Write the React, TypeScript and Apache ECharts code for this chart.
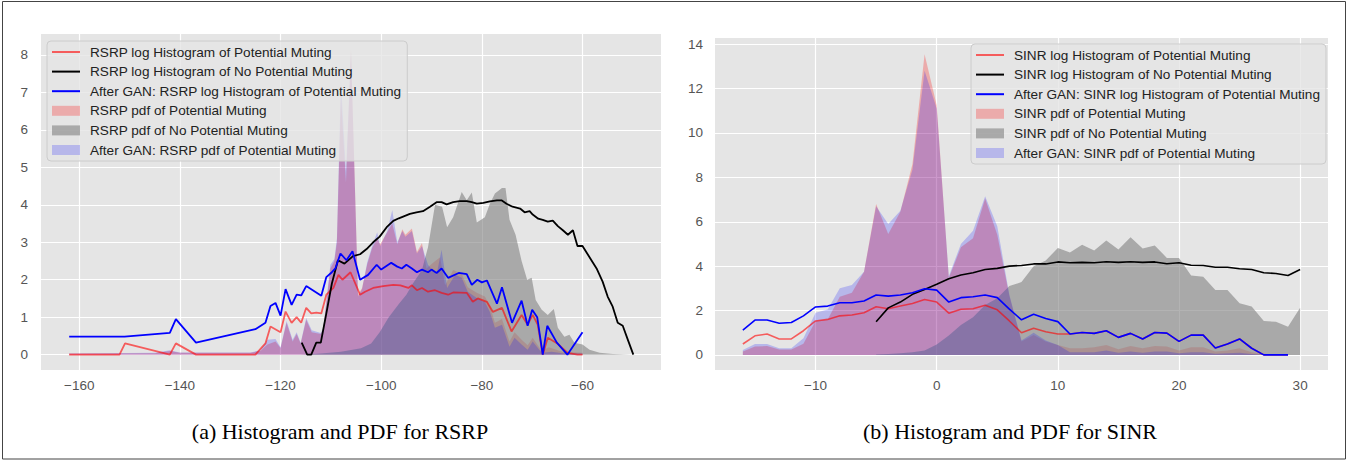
import React, { useEffect, useRef } from "react";
import * as echarts from "echarts";

// ---------- RSRP (left) ----------
const RSRP_RED_LINE: [number, number][] = [
  [-162, 0], [-152, 0], [-150.9, 0.3], [-142, 0], [-140.8, 0.3], [-136.8, 0], [-125, 0], [-123, 0.3],
  [-122, 0.75], [-120, 0.6], [-119, 1.15], [-117.8, 0.85], [-116.8, 1.0], [-115.9, 0.85], [-114.9, 1.25],
  [-113.9, 1.1], [-112.9, 1.12], [-111.9, 1.1], [-110.9, 1.6], [-109.5, 1.78], [-108.5, 2.13], [-107.7, 2.0],
  [-106.1, 2.2], [-104.2, 1.6], [-103.2, 1.68], [-101.6, 1.78], [-99.6, 1.83], [-97.6, 1.86], [-96.2, 1.85],
  [-94.6, 1.78], [-93.9, 1.85], [-92.9, 1.72], [-91.9, 1.78], [-90.7, 1.68], [-89.3, 1.72], [-88, 1.65],
  [-86.7, 1.6], [-85.7, 1.66], [-83, 1.65], [-81.8, 1.41], [-80.8, 1.5], [-79, 1.41], [-77.8, 1.14],
  [-76, 1.25], [-74.1, 0.62], [-72.1, 1.06], [-70.9, 0.8], [-69.9, 1.06], [-68.9, 0.8], [-67.9, 0],
  [-66.9, 0.45], [-65, 0.3], [-63, 0.05], [-61, 0], [-60, 0],
];
const RSRP_BLACK_LINE: [number, number][] = [
  [-115.8, 0.32], [-114.7, 0], [-113.9, 0], [-112.9, 0.32], [-112, 0.32], [-110.9, 1.1], [-109.8, 1.9],
  [-108.6, 2.52], [-107.3, 2.43], [-105.6, 2.63], [-104.2, 2.68], [-102.9, 2.82], [-101.6, 3.0], [-100.3, 3.15],
  [-98.8, 3.42], [-97.6, 3.57], [-96.5, 3.64], [-95.4, 3.7], [-94.3, 3.76], [-93, 3.8], [-91.7, 3.83],
  [-90.3, 3.95], [-89, 4.07], [-88, 4.07], [-87, 4.01], [-85.7, 4.07], [-84.4, 4.1], [-83, 4.1], [-82, 4.07],
  [-81, 4.03], [-79.7, 4.05], [-78.4, 4.09], [-77, 4.12], [-76.1, 4.12], [-75.1, 4.03], [-73.9, 3.95],
  [-72.4, 3.9], [-71.5, 3.8], [-70.5, 3.83], [-69.9, 3.74], [-68.8, 3.63], [-67.9, 3.6], [-66.9, 3.55],
  [-65.9, 3.58], [-64.9, 3.43], [-63.9, 3.32], [-62.9, 3.2], [-61.9, 3.32], [-61, 2.9], [-60, 2.9],
  [-58.6, 2.6], [-57.2, 2.3], [-56, 1.95], [-55, 1.55], [-54, 1.28], [-53, 0.85], [-52, 0.77], [-51, 0.4],
  [-49.9, 0],
];
const RSRP_BLUE_LINE: [number, number][] = [
  [-162, 0.48], [-151, 0.48], [-142, 0.58], [-140.8, 0.95], [-136.8, 0.32], [-125, 0.68], [-123, 0.85],
  [-122, 1.3], [-121, 1.38], [-120, 1.04], [-119, 1.75], [-117.8, 1.33], [-116.8, 1.6], [-115.9, 1.58],
  [-114.9, 1.83], [-111.9, 1.57], [-110.9, 2.07], [-109.8, 2.2], [-109.1, 2.3], [-108.1, 2.7], [-106.9, 2.52],
  [-105.7, 2.76], [-104.2, 2.0], [-102.6, 2.13], [-100.9, 2.4], [-100, 2.27], [-98, 2.45], [-96.8, 2.35],
  [-95.9, 2.3], [-95, 2.4], [-93.9, 2.3], [-92.9, 2.2], [-91.9, 2.27], [-90.7, 2.2], [-90, 2.27], [-89, 2.18],
  [-88, 2.3], [-86.7, 2.05], [-84.6, 2.18], [-83, 2.15], [-82, 1.86], [-80.9, 2.0], [-80, 1.93], [-79, 1.98],
  [-77, 1.36], [-76, 1.8], [-74, 0.85], [-72.1, 1.44], [-70.9, 0.77], [-70, 1.2], [-69, 1.0], [-67.9, 0],
  [-67, 0.77], [-65.1, 0.32], [-63, 0], [-60, 0.6],
];
const RSRP_RED_PDF: [number, number][] = [
  [-162, 0.03], [-145, 0.04], [-142, 0.1], [-140, 0.05], [-126, 0.05], [-124, 0.1], [-122.6, 0.27],
  [-121, 0.35], [-120, 0.18], [-118.8, 0.85], [-117.6, 0.35], [-116.8, 0.55], [-116, 0.3], [-114.9, 0.93],
  [-113.8, 0.6], [-112, 0.55], [-111.5, 0.7], [-110.1, 2.3], [-109.3, 2.5], [-108.8, 3.0], [-108, 6.9],
  [-107, 4.6], [-106, 8.15], [-104.6, 1.6], [-103.8, 1.78], [-102.8, 2.4], [-101.8, 2.85], [-100.8, 3.1],
  [-100.2, 2.95], [-98.8, 3.27], [-97.8, 3.5], [-96.8, 2.95], [-95.8, 3.35], [-95.2, 3.2], [-93.9, 3.37],
  [-92.9, 2.74], [-91.9, 2.98], [-91, 2.3], [-89.7, 2.45], [-88.3, 2.6], [-87.3, 1.85], [-85.7, 2.26],
  [-84, 2.15], [-82.8, 1.8], [-81, 1.65], [-79.4, 1.55], [-78.4, 1.3], [-77.4, 0.85], [-76, 0.95],
  [-74.5, 0.35], [-73.5, 0.6], [-72.1, 0.4], [-70.9, 0.25], [-69.9, 0.45], [-68.1, 0.1], [-66.7, 0.2],
  [-64, 0.08], [-60, 0.05],
];
const RSRP_GREY_PDF: [number, number][] = [
  [-116, 0], [-112, 0.03], [-108, 0.08], [-104, 0.17], [-102, 0.3], [-100.3, 0.6], [-98.5, 1.0],
  [-96.5, 1.35], [-95, 1.6], [-93.7, 1.9], [-91.9, 2.26], [-90.7, 2.87], [-89.3, 4.0], [-87.9, 3.95],
  [-86.9, 3.4], [-85.7, 3.67], [-84, 4.34], [-83, 4.12], [-82, 4.33], [-81, 3.53], [-79.4, 3.67],
  [-78.4, 4.03], [-77.4, 4.3], [-76, 4.45], [-75.3, 4.45], [-74.5, 3.6], [-73.3, 3.2], [-72.1, 2.5],
  [-71, 2.0], [-70.1, 2.05], [-69.3, 1.46], [-68.1, 1.2], [-66.9, 1.06], [-65.7, 1.22], [-64.9, 0.72],
  [-63.6, 0.48], [-62.6, 0.53], [-61.6, 0.32], [-60, 0.27], [-58.6, 0.13], [-56.6, 0.05], [-54, 0.02],
  [-50, 0],
];
const RSRP_BLUE_PDF: [number, number][] = [
  [-162, 0.03], [-145, 0.05], [-142, 0.12], [-140, 0.06], [-126, 0.06], [-124, 0.12], [-122.6, 0.4],
  [-121, 0.42], [-120, 0.2], [-118.8, 0.9], [-117.6, 0.4], [-116.8, 0.6], [-116, 0.32], [-114.9, 0.98],
  [-113.8, 0.65], [-112, 0.58], [-111.5, 0.72], [-110.1, 2.4], [-109.3, 2.55], [-108.8, 3.1], [-108, 7.3],
  [-107, 4.9], [-106, 8.1], [-104.6, 1.55], [-103.8, 1.75], [-102.8, 2.45], [-101.8, 2.9], [-100.8, 3.27],
  [-100.2, 2.9], [-98.8, 3.3], [-97.8, 3.86], [-96.8, 3.0], [-95.8, 3.3], [-95.2, 3.15], [-93.9, 3.3],
  [-92.9, 2.7], [-91.9, 2.9], [-90.7, 2.4], [-89, 2.13], [-88, 2.8], [-86.9, 1.78], [-85.3, 2.13],
  [-84, 2.05], [-82.8, 1.68], [-81, 1.51], [-79.4, 1.41], [-78.4, 1.14], [-77.4, 0.72], [-76, 0.8],
  [-74.5, 0.21], [-73.5, 0.45], [-72.1, 0.27], [-70.9, 0.13], [-69.9, 0.35], [-68.1, 0.05], [-66.1, 0.08],
  [-64, 0.04], [-60, 0.03],
];

// ---------- SINR (right) ----------
const SINR_BINS_A = [
  -16, -15, -14, -13, -12, -11, -10, -9, -8, -7, -6, -5, -4, -3, -2, -1, 0, 1, 2, 3, 4, 5, 6, 7, 8, 9,
  10, 11, 12, 13, 14, 15, 16, 17, 18, 19, 20, 21, 22, 23, 24, 25, 26, 27, 28, 29,
];
const SINR_BINS_B = [
  -5, -4, -3, -2, -1, 0, 1, 2, 3, 4, 5, 6, 7, 8, 9, 10, 11, 12, 13, 14, 15, 16, 17, 18, 19, 20, 21, 22,
  23, 24, 25, 26, 27, 28, 29, 30,
];
const SINR_RED_LINE = [
  0.49, 0.86, 0.94, 0.72, 0.72, 1.09, 1.53, 1.6, 1.76, 1.8, 1.9, 2.17, 2.08, 2.2, 2.32, 2.5, 2.38, 1.88,
  2.06, 2.08, 2.24, 2.03, 1.53, 1.0, 1.2, 1.04, 0.94, 0.94, 1.01, 0.97, 1.09, 0.79, 0.97, 0.72, 1.01, 0.98,
  0.61, 0.89, 0.89, 0.31, 0.49, 0.72, 0.3, 0, 0, 0,
];
const SINR_BLUE_LINE = [
  1.12, 1.57, 1.57, 1.43, 1.46, 1.76, 2.16, 2.2, 2.35, 2.35, 2.43, 2.7, 2.65, 2.7, 2.8, 2.98, 2.92, 2.38,
  2.58, 2.62, 2.7, 2.58, 2.06, 1.58, 1.83, 1.64, 1.5, 0.94, 1.01, 0.97, 1.09, 0.79, 0.97, 0.72, 1.01, 0.98,
  0.61, 0.89, 0.89, 0.31, 0.49, 0.72, 0.3, 0, 0, 0,
];
const SINR_BLACK_LINE = [
  1.49, 2.12, 2.38, 2.73, 2.95, 3.18, 3.43, 3.6, 3.7, 3.85, 3.9, 4.0, 4.03, 4.1, 4.1, 4.19, 4.15, 4.17,
  4.15, 4.2, 4.17, 4.2, 4.17, 4.19, 4.11, 4.15, 4.04, 4.03, 3.95, 3.95, 3.88, 3.85, 3.7, 3.67, 3.58, 3.85,
];
const SINR_RED_PDF = [
  0.15, 0.38, 0.4, 0.24, 0.24, 0.5, 1.53, 1.6, 2.62, 2.8, 3.75, 6.8, 5.45, 6.45, 8.6, 13.55, 11.25, 3.47,
  4.85, 5.26, 7.05, 5.41, 2.65, 0.6, 0.9, 0.6, 0.45, 0.3, 0.3, 0.35, 0.45, 0.25, 0.4, 0.3, 0.4, 0.38, 0.2,
  0.35, 0.35, 0.15, 0.2, 0.3, 0.12, 0.05, 0, 0,
];
const SINR_GREY_PDF = [
  0.02, 0.04, 0.07, 0.12, 0.2, 0.47, 0.88, 1.35, 1.7, 2.25, 2.55, 3.1, 3.28, 4.0, 4.25, 4.82, 4.62, 4.96,
  4.7, 5.16, 4.75, 5.3, 4.8, 4.93, 4.37, 4.37, 3.58, 3.52, 2.92, 2.92, 2.33, 2.18, 1.53, 1.49, 1.27, 2.13,
];
const SINR_BLUE_PDF = [
  0.22, 0.49, 0.49, 0.3, 0.3, 0.75, 1.9, 2.05, 3.0, 3.15, 3.75, 6.7, 5.9, 6.5, 8.35, 12.8, 11.1, 3.55, 5.0,
  5.6, 7.15, 5.8, 2.7, 0.65, 1.0, 0.65, 0.45, 0.12, 0.12, 0.12, 0.2, 0.1, 0.15, 0.1, 0.15, 0.15, 0.08, 0.12,
  0.12, 0.05, 0.08, 0.1, 0.04, 0, 0, 0,
];

const zip = (xs: number[], ys: number[]) => xs.map((x, i) => [x, ys[i]]);

const RED_LINE = "rgba(255,0,0,0.6)";
const BLACK_LINE = "#000000";
const BLUE_LINE = "#0000ff";
const RED_FILL = "rgba(255,0,0,0.25)";
const GREY_FILL = "rgba(128,128,128,0.6)";
const BLUE_FILL = "rgba(0,0,255,0.2)";
const LINE_ICON = "path://M0,0L28,0L28,2L0,2Z";
const SANS = "Liberation Sans, Arial, sans-serif";

function lineSeries(name: string, data: any[], color: string, idx: number, width: number) {
  return {
    name, type: "line", data, xAxisIndex: idx, yAxisIndex: idx, symbol: "none", silent: true,
    color, itemStyle: { color }, lineStyle: { color, width }, z: 3,
  };
}
function areaSeries(name: string, data: any[], color: string, idx: number) {
  return {
    name, type: "line", data, xAxisIndex: idx, yAxisIndex: idx, symbol: "none", silent: true,
    color, itemStyle: { color }, lineStyle: { width: 0, opacity: 0 }, areaStyle: { color, opacity: 1 }, z: 2,
  };
}
function fmt(step: number) {
  return (v: number) => {
    const r = Math.round(v);
    if (Math.abs(v - r) > 1e-6 || r % step !== 0) return "";
    return r < 0 ? "\u2212" + Math.abs(r) : String(r);
  };
}
function xAxis(idx: number, min: number, max: number, step: number) {
  return {
    type: "value", gridIndex: idx, min, max, minInterval: step, maxInterval: step,
    axisLine: { show: false }, axisTick: { show: false },
    splitLine: { show: true, showMinLine: false, showMaxLine: false, lineStyle: { color: "#ffffff", width: 1.2 } },
    axisLabel: { color: "#555555", fontSize: 13.5, fontFamily: SANS, margin: 8, showMinLabel: false, showMaxLabel: false, formatter: fmt(step) },
  };
}
function yAxis(idx: number, min: number, max: number, step: number, margin: number) {
  return {
    type: "value", gridIndex: idx, min, max, minInterval: step, maxInterval: step,
    axisLine: { show: false }, axisTick: { show: false },
    splitLine: { show: true, showMinLine: false, showMaxLine: false, lineStyle: { color: "#ffffff", width: 1.2 } },
    axisLabel: { color: "#555555", fontSize: 13.5, fontFamily: SANS, margin, showMinLabel: false, showMaxLabel: false, formatter: fmt(step) },
  };
}
function legend(left: number, top: number, names: string[]) {
  return {
    orient: "vertical", left, top, itemWidth: 28, itemHeight: 10, itemGap: 3.6,
    padding: [3, 6, 3, 5], backgroundColor: "rgba(229,229,229,0.8)", borderColor: "#cccccc",
    borderWidth: 1, borderRadius: 4, selectedMode: false,
    itemStyle: { borderWidth: 0 },
    textStyle: { fontFamily: SANS, fontSize: 13.6, color: "#222222", lineHeight: 16, padding: [0, 0, 0, 5] },
    data: names.map((n, i) => ({ name: n, icon: i < 3 ? LINE_ICON : "rect" })),
  };
}

const L_NAMES = [
  "RSRP log Histogram of Potential Muting",
  "RSRP log Histogram of No Potential Muting",
  "After GAN: RSRP log Histogram of Potential Muting",
  "RSRP pdf of Potential Muting",
  "RSRP pdf of No Potential Muting",
  "After GAN: RSRP pdf of Potential Muting",
];
const R_NAMES = [
  "SINR log Histogram of Potential Muting",
  "SINR log Histogram of No Potential Muting",
  "After GAN: SINR log Histogram of Potential Muting",
  "SINR pdf of Potential Muting",
  "SINR pdf of No Potential Muting",
  "After GAN: SINR pdf of Potential Muting",
];
const CAPTIONS = ["(a) Histogram and PDF for RSRP", "(b) Histogram and PDF for SINR"];

export default function App() {
  const ref = useRef<HTMLDivElement>(null);
  useEffect(() => {
    if (!ref.current) return;
    const chart = echarts.init(ref.current, undefined, { renderer: "svg" });
    chart.setOption({
      animation: false,
      backgroundColor: "#ffffff",
      grid: [
        { left: 41, top: 34, width: 620, height: 336, show: true, backgroundColor: "#E5E5E5", borderWidth: 0 },
        { left: 715, top: 38, width: 613, height: 332, show: true, backgroundColor: "#E5E5E5", borderWidth: 0 },
      ],
      xAxis: [xAxis(0, -167.6, -44.4, 20), xAxis(1, -18.3, 32.3, 10)],
      yAxis: [yAxis(0, -0.41, 8.56, 1, 13), yAxis(1, -0.68, 14.28, 2, 12)],
      legend: [legend(47, 41, L_NAMES), legend(971, 44, R_NAMES)],
      series: [
        areaSeries(L_NAMES[3], RSRP_RED_PDF, RED_FILL, 0),
        areaSeries(L_NAMES[4], RSRP_GREY_PDF, GREY_FILL, 0),
        areaSeries(L_NAMES[5], RSRP_BLUE_PDF, BLUE_FILL, 0),
        lineSeries(L_NAMES[0], RSRP_RED_LINE, RED_LINE, 0, 1.8),
        lineSeries(L_NAMES[1], RSRP_BLACK_LINE, BLACK_LINE, 0, 1.8),
        lineSeries(L_NAMES[2], RSRP_BLUE_LINE, BLUE_LINE, 0, 1.8),
        areaSeries(R_NAMES[3], zip(SINR_BINS_A, SINR_RED_PDF), RED_FILL, 1),
        areaSeries(R_NAMES[4], zip(SINR_BINS_B, SINR_GREY_PDF), GREY_FILL, 1),
        areaSeries(R_NAMES[5], zip(SINR_BINS_A, SINR_BLUE_PDF), BLUE_FILL, 1),
        lineSeries(R_NAMES[0], zip(SINR_BINS_A, SINR_RED_LINE), RED_LINE, 1, 1.6),
        lineSeries(R_NAMES[1], zip(SINR_BINS_B, SINR_BLACK_LINE), BLACK_LINE, 1, 1.6),
        lineSeries(R_NAMES[2], zip(SINR_BINS_A, SINR_BLUE_LINE), BLUE_LINE, 1, 1.6),
      ],
      graphic: [
        { type: "rect", shape: { x: 2.5, y: 1.5, width: 1343, height: 457.5 }, style: { fill: "none", stroke: "#444444", lineWidth: 1 }, silent: true },
        { type: "text", x: 340, y: 431, style: { text: CAPTIONS[0], fontFamily: "Liberation Serif, Times New Roman, serif", fontSize: 22, fill: "#000", textAlign: "center", textVerticalAlign: "middle" }, silent: true },
        { type: "text", x: 1010, y: 431, style: { text: CAPTIONS[1], fontFamily: "Liberation Serif, Times New Roman, serif", fontSize: 22, fill: "#000", textAlign: "center", textVerticalAlign: "middle" }, silent: true },
      ],
    });
    return () => chart.dispose();
  }, []);
  return <div ref={ref} style={{ position: "absolute", left: 0, top: 0, width: 1351, height: 462 }} />;
}
